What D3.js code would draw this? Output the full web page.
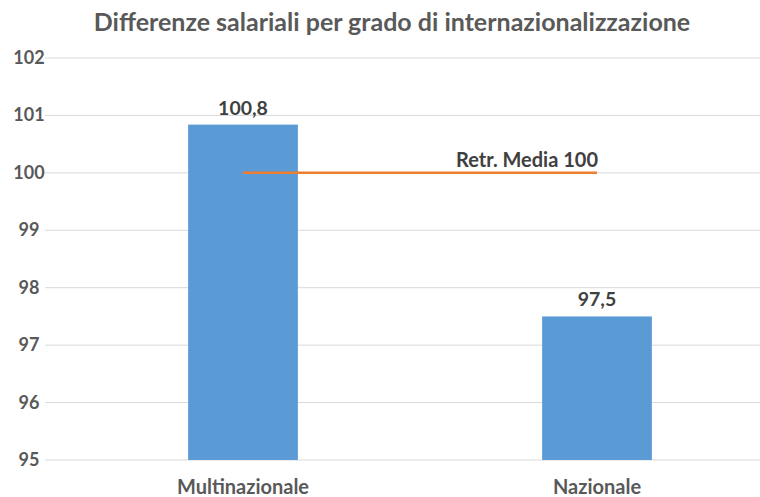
<!DOCTYPE html>
<html>
<head>
<meta charset="utf-8">
<script src="https://cdn.jsdelivr.net/npm/d3@7"></script>
<style>
  body { margin: 0; background: #fff; }
  text { font-family: Lato, "Open Sans", sans-serif; font-weight: bold; fill: #595959; }
</style>
</head>
<body>
<div id="vizDiv"></div>
<script>
var width = 760
var height = 497

// data
var categories = ["Multinazionale", "Nazionale"]
var values = [100.84, 97.5]
var mediaValues = [100, 100]
var mediaLabel = "Retr. Media 100"
var yTicks = [95, 96, 97, 98, 99, 100, 101, 102]
var title = "Differenze salariali per grado di internazionalizzazione"

var svg = d3.select("#vizDiv")
  .append("svg")
  .attr("width", width)
  .attr("height", height)

var x = d3.scaleBand().domain(categories).range([66, 774])
var y = d3.scaleLinear().domain([95, 102]).range([460, 58])
var barW = x.bandwidth() * 0.31
var fmt = function(v) { return d3.format(".1f")(v).replace(".", ",") }

// gridlines
svg.selectAll(".grid")
  .data(yTicks)
  .enter().append("line")
  .attr("x1", 45)
  .attr("x2", width)
  .attr("y1", function(d) { return y(d) })
  .attr("y2", function(d) { return y(d) })
  .attr("stroke", "#d9d9d9")
  .attr("stroke-width", 1)

// y tick labels
svg.selectAll(".ylab")
  .data(yTicks)
  .enter().append("text")
  .attr("x", 29)
  .attr("y", function(d) { return y(d) + 6 })
  .attr("text-anchor", "middle")
  .style("font-size", "18px")
  .text(function(d) { return d })

// bars
svg.selectAll(".bar")
  .data(values)
  .enter().append("rect")
  .attr("x", function(d, i) { return x(categories[i]) + x.bandwidth()/2 - barW/2 })
  .attr("y", function(d) { return y(d) })
  .attr("width", barW)
  .attr("height", function(d) { return y(95) - y(d) })
  .attr("fill", "#5b9bd5")

// value labels
svg.selectAll(".vlab")
  .data(values)
  .enter().append("text")
  .attr("x", function(d, i) { return x(categories[i]) + x.bandwidth()/2 })
  .attr("y", function(d) { return y(d) - 10 })
  .attr("text-anchor", "middle")
  .style("font-size", "19.5px")
  .style("fill", "#404040")
  .text(function(d) { return fmt(d) })

// media line
var line = d3.line()
  .x(function(d, i) { return x(categories[i]) + x.bandwidth()/2 })
  .y(function(d) { return y(d) })

svg.append("path")
  .attr("d", line(mediaValues))
  .attr("stroke", "#ed7d31")
  .attr("stroke-width", 2.5)
  .attr("fill", "none")

svg.append("text")
  .attr("x", x(categories[1]) + x.bandwidth()/2 + 1)
  .attr("y", y(mediaValues[1]) - 6)
  .attr("text-anchor", "end")
  .style("font-size", "20px")
  .style("fill", "#404040")
  .text(mediaLabel)

// category labels
svg.selectAll(".xlab")
  .data(categories)
  .enter().append("text")
  .attr("x", function(d) { return x(d) + x.bandwidth()/2 })
  .attr("y", 494)
  .attr("text-anchor", "middle")
  .style("font-size", "20px")
  .text(function(d) { return d })

// title
svg.append("text")
  .attr("x", 392)
  .attr("y", 31)
  .attr("text-anchor", "middle")
  .style("font-size", "25px")
  .text(title)
</script>
</body>
</html>
